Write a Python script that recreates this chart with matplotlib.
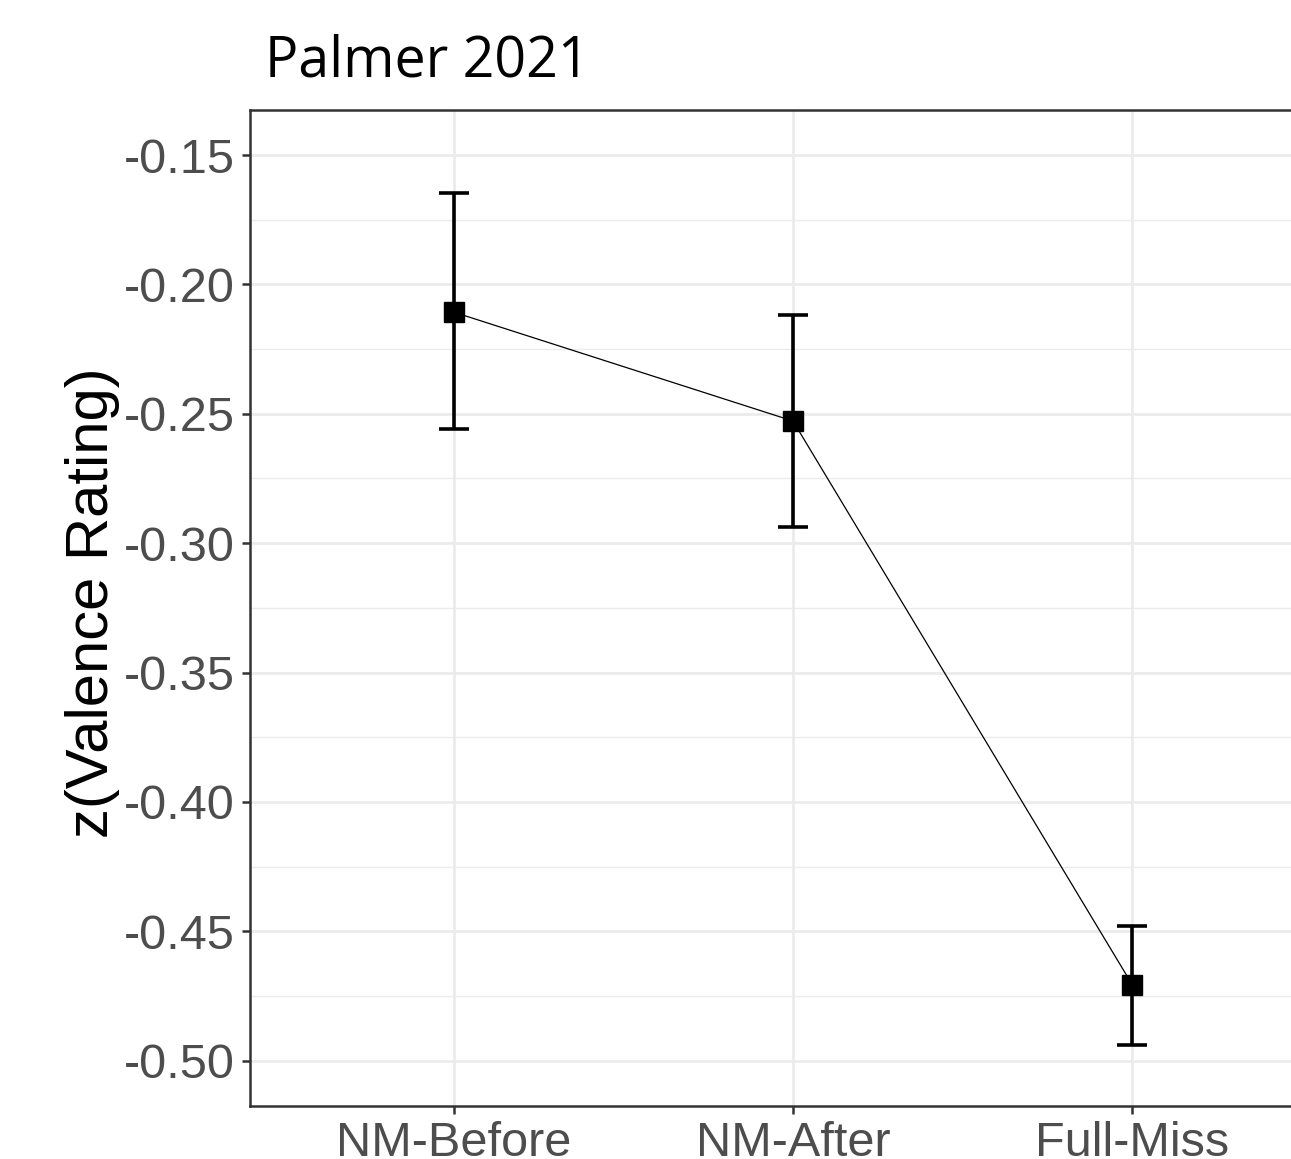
import matplotlib
matplotlib.use("Agg")
import matplotlib.pyplot as plt
import numpy as np
from matplotlib.ticker import MultipleLocator

# Data
conditions = ["NM-Before", "NM-After", "Full-Miss"]
means = [-0.2107, -0.2528, -0.4707]
upper = [-0.1647, -0.2118, -0.4479]
lower = [-0.2559, -0.2937, -0.4939]
y_ticks = [-0.15, -0.20, -0.25, -0.30, -0.35, -0.40, -0.45, -0.50]

W, H, DPI = 1291, 1159, 100
fig = plt.figure(figsize=(W / DPI, H / DPI), dpi=DPI)
ax = fig.add_axes([250 / W, 53 / H, 1086 / W, 996 / H])

x = np.arange(1, len(conditions) + 1)
means = np.array(means)
yerr = np.vstack([means - np.array(lower), np.array(upper) - means])

ax.plot(x, means, color="black", lw=0.9, zorder=3)
ax.errorbar(x, means, yerr=yerr, fmt="none", ecolor="black",
            elinewidth=2.6, capsize=11, capthick=2.6, zorder=4)
ax.plot(x, means, "s", color="black", markersize=14, zorder=5)

ax.set_xlim(0.4, 3.6)
ax.set_ylim(-0.5175, -0.1326)
ax.set_xticks(x)
ax.set_xticklabels(conditions)
ax.set_yticks(y_ticks)
ax.set_yticklabels([f"{v:.2f}" for v in y_ticks])
ax.yaxis.set_minor_locator(MultipleLocator(0.025))

# theme_bw look
ax.grid(True, which="major", color="#EBEBEB", lw=2.0, zorder=0)
ax.grid(True, which="minor", axis="y", color="#EBEBEB", lw=1.0, zorder=0)
ax.set_axisbelow(True)
for s in ax.spines.values():
    s.set_color("#333333")
    s.set_linewidth(1.8)
ax.tick_params(which="major", length=6, width=1.8, color="#333333",
               labelsize=35, labelcolor="#4D4D4D", pad=5)
ax.tick_params(which="minor", length=0)
for lab in ax.get_xticklabels() + ax.get_yticklabels():
    lab.set_family("Liberation Sans")

ax.set_ylabel("z(Valence Rating)", fontsize=43, family="Liberation Sans",
              color="black")
ax.yaxis.set_label_coords(-0.12, 0.505)

fig.text(265 / W, 1 - 62 / H, "Palmer 2021", fontsize=40, family="Open Sans",
         ha="left", va="center", color="black")

fig.savefig("out.png", dpi=DPI)
